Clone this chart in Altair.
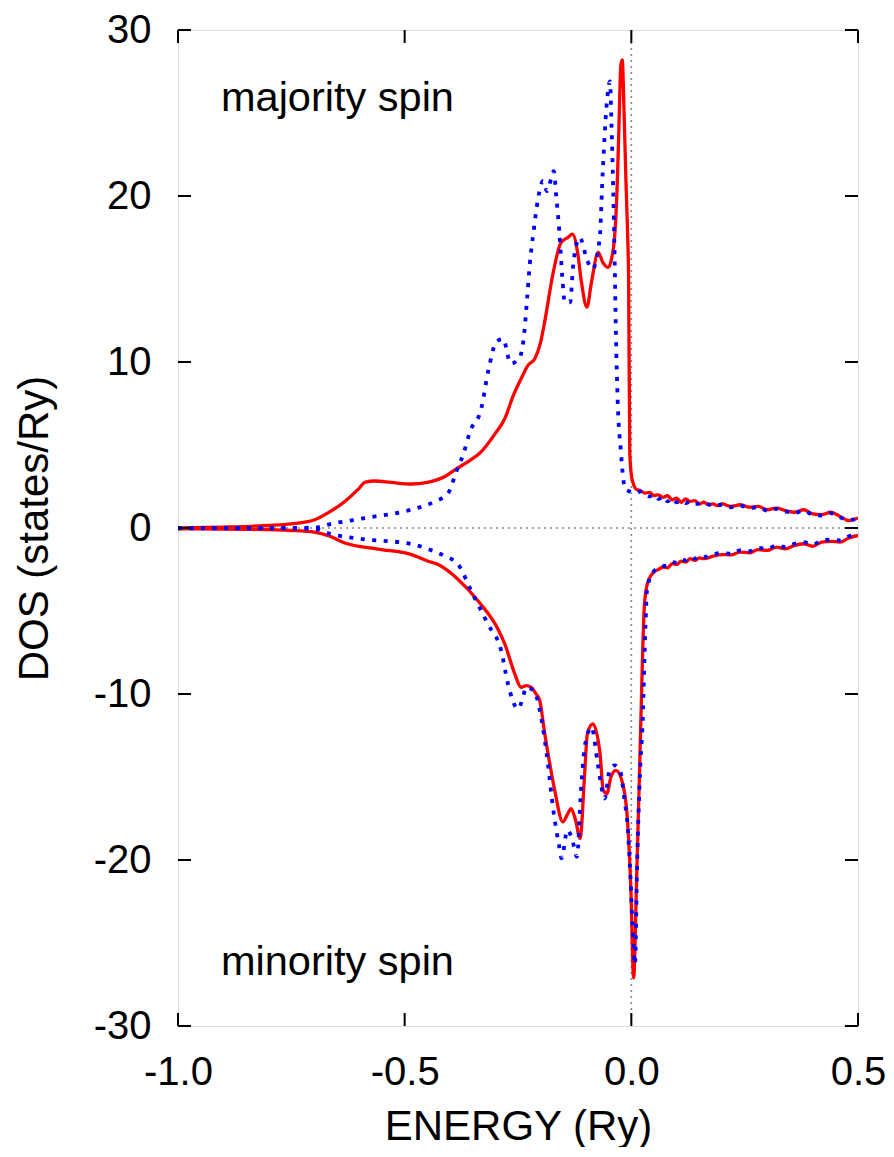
import altair as alt
import pandas as pd

# ---------------- data ----------------
maj_red_E = [-1.0, -0.9, -0.8, -0.75, -0.70, -0.67, -0.632, -0.60, -0.588, -0.566, -0.53, -0.486, -0.45,
             -0.411, -0.387, -0.36, -0.331, -0.30, -0.279, -0.26, -0.243, -0.228, -0.213, -0.200, -0.190,
             -0.173, -0.155, -0.140, -0.130, -0.118, -0.110, -0.098, -0.088, -0.073, -0.063, -0.051, -0.043,
             -0.037, -0.032, -0.028, -0.023, -0.020, -0.016, -0.012, -0.008, -0.006, -0.0035, 0.0, 0.004,
             0.010, 0.02, 0.03, 0.04, 0.05, 0.06, 0.07, 0.08, 0.09, 0.10, 0.11, 0.12, 0.13, 0.14, 0.15, 0.16,
             0.17, 0.18, 0.19, 0.20, 0.22, 0.24, 0.26, 0.28, 0.30, 0.32, 0.34, 0.36, 0.38, 0.40, 0.42, 0.44,
             0.46, 0.48, 0.50]
maj_red_D = [0.0, 0.05, 0.15, 0.25, 0.48, 0.9, 1.6, 2.4, 2.75, 2.83, 2.75, 2.65, 2.75,
             3.1, 3.55, 4.0, 4.6, 5.7, 6.6, 8.0, 9.0, 9.8, 10.2, 11.2, 12.6,
             15.3, 17.2, 17.5, 17.7, 16.5, 14.8, 13.3, 14.8, 16.6, 16.0, 15.7, 16.3,
             17.5, 20.0, 23.5, 27.9, 28.2, 25.0, 21.0, 17.5, 15.0, 4.6, 3.2, 2.7,
             2.35, 2.25, 2.1, 2.15, 1.95, 2.0, 1.85, 1.95, 1.7, 1.8, 1.55, 1.75, 1.6, 1.65, 1.45, 1.55,
             1.4, 1.45, 1.35, 1.45, 1.3, 1.4, 1.25, 1.3, 1.1, 1.2, 1.05, 0.95, 1.1, 0.85, 0.8, 0.95,
             0.7, 0.45, 0.6]

maj_blue_E = [-1.0, -0.8, -0.7, -0.662, -0.588, -0.486, -0.433, -0.404, -0.386, -0.370, -0.356, -0.331,
              -0.316, -0.298, -0.283, -0.266, -0.246, -0.236, -0.230, -0.224, -0.215, -0.206, -0.195, -0.186,
              -0.171, -0.166, -0.159, -0.152, -0.147, -0.135, -0.128, -0.114, -0.097, -0.086, -0.070, -0.063,
              -0.055, -0.047, -0.044, -0.040, -0.037, -0.034, -0.030, -0.023, -0.018, -0.012, -0.003, 0.01,
              0.02, 0.03, 0.04, 0.05, 0.06, 0.07, 0.08, 0.09, 0.10, 0.11, 0.12, 0.13, 0.14, 0.16, 0.18, 0.20,
              0.22, 0.24, 0.26, 0.28, 0.30, 0.32, 0.34, 0.36, 0.38, 0.40, 0.42, 0.44, 0.46, 0.48, 0.50]
maj_blue_D = [0.0, 0.0, 0.02, 0.25, 0.6, 1.1, 1.6, 2.1, 3.4, 4.5, 5.8, 7.2,
              9.4, 11.2, 11.4, 9.9, 10.3, 11.8, 13.8, 15.9, 18.0, 19.8, 20.9, 20.3,
              21.5, 20.1, 17.9, 15.0, 13.6, 13.6, 15.9, 17.5, 16.1, 15.6, 17.4, 21.5,
              25.3, 26.9, 24.5, 20.4, 16.5, 11.7, 7.6, 4.6, 3.0, 2.3, 2.2, 2.1,
              2.2, 2.0, 1.9, 2.0, 1.75, 1.9, 1.6, 1.8, 1.55, 1.65, 1.5, 1.6, 1.45, 1.5, 1.35, 1.4,
              1.25, 1.35, 1.2, 1.25, 1.05, 1.15, 1.0, 0.9, 1.05, 0.8, 0.75, 0.9, 0.65, 0.5, 0.55]

min_red_E = [-1.0, -0.85, -0.75, -0.70, -0.665, -0.632, -0.559, -0.485, -0.448, -0.426, -0.382, -0.338,
             -0.294, -0.279, -0.257, -0.243, -0.232, -0.221, -0.210, -0.202, -0.191, -0.176, -0.169, -0.151,
             -0.140, -0.133, -0.123, -0.113, -0.103, -0.097, -0.085, -0.069, -0.062, -0.054, -0.045, -0.034,
             -0.019, -0.008, -0.001, 0.005, 0.012, 0.018, 0.021, 0.029, 0.036, 0.052, 0.06, 0.07, 0.08,
             0.09, 0.10, 0.11, 0.12, 0.13, 0.14, 0.15, 0.16, 0.18, 0.20, 0.22, 0.24, 0.26, 0.28, 0.30, 0.32,
             0.34, 0.36, 0.38, 0.40, 0.42, 0.44, 0.46, 0.48, 0.50]
min_red_D = [-0.05, -0.08, -0.15, -0.25, -0.5, -0.9, -1.27, -1.6, -2.0, -2.2, -3.1, -4.4,
             -6.1, -7.0, -8.8, -9.6, -9.5, -9.6, -10.0, -10.4, -12.4, -14.8, -15.8, -17.7,
             -17.2, -16.9, -17.6, -18.7, -14.8, -12.4, -11.8, -13.6, -15.8, -16.0, -15.0, -14.6,
             -15.4, -17.8, -21.8, -27.1, -20.8, -14.8, -11.6, -4.6, -3.3, -2.6, -2.5, -2.35, -2.4,
             -2.15, -2.2, -2.0, -2.05, -1.85, -1.95, -1.8, -1.85, -1.7, -1.6, -1.62, -1.45, -1.5, -1.3, -1.35, -1.15,
             -1.25, -1.05, -0.95, -1.1, -0.85, -0.8, -0.85, -0.6, -0.45]

min_blue_E = [-1.0, -0.8, -0.7, -0.662, -0.588, -0.486, -0.448, -0.411, -0.382, -0.353, -0.316, -0.287,
              -0.272, -0.250, -0.240, -0.232, -0.215, -0.199, -0.184, -0.173, -0.159, -0.154, -0.141, -0.130,
              -0.120, -0.111, -0.103, -0.100, -0.088, -0.074, -0.066, -0.059, -0.048, -0.037, -0.025, -0.015,
              -0.008, -0.002, 0.004, 0.008, 0.013, 0.019, 0.025, 0.031, 0.035, 0.050, 0.06, 0.07, 0.08,
              0.09, 0.10, 0.11, 0.12, 0.13, 0.14, 0.15, 0.16, 0.18, 0.20, 0.22, 0.24, 0.26, 0.28, 0.30, 0.32,
              0.34, 0.36, 0.38, 0.40, 0.42, 0.44, 0.46, 0.48, 0.50]
min_blue_D = [-0.02, -0.02, -0.05, -0.37, -0.68, -0.96, -1.27, -1.7, -2.2, -3.8, -5.8, -7.4,
              -9.4, -10.9, -10.3, -9.6, -9.8, -11.4, -14.2, -16.8, -19.2, -19.9, -18.2, -18.8,
              -19.8, -15.8, -13.2, -12.8, -12.0, -14.2, -15.6, -16.3, -14.6, -14.3, -14.6, -16.4,
              -18.0, -21.0, -24.8, -26.3, -20.0, -14.8, -11.6, -6.0, -3.6, -2.6, -2.4, -2.3, -2.25,
              -2.05, -2.1, -1.9, -1.95, -1.75, -1.85, -1.7, -1.75, -1.6, -1.5, -1.55, -1.35, -1.4, -1.2, -1.25, -1.05,
              -1.15, -0.95, -0.85, -1.0, -0.75, -0.7, -0.75, -0.5, -0.4]

x_ticks = [-1.0, -0.5, 0.0, 0.5]
y_ticks = [-30, -20, -10, 0, 10, 20, 30]
labels = ["majority spin", "minority spin"]

FONT = "Liberation Sans"
W, H = 680, 996

xs = alt.Scale(domain=[-1.0, 0.5], nice=False, zero=False)
ys = alt.Scale(domain=[-30, 30], nice=False, zero=False)

x_axis = alt.Axis(values=x_ticks, title="ENERGY (Ry)", grid=False, ticks=False, tickSize=0, domain=False,
                  labelFlush=False, labelOverlap=False,
                  labelExpr="datum.value < 0 ? '-' + format(-datum.value, '.1f') : format(datum.value, '.1f')",
                  labelFont=FONT, labelFontSize=40, labelColor="black", labelPadding=26,
                  titleFont=FONT, titleFontSize=42, titleFontWeight="normal", titleColor="black",
                  titleX=W / 2, titleY=113, titleAlign="center", titleBaseline="alphabetic")
y_axis = alt.Axis(values=y_ticks, title="DOS (states/Ry)", grid=False, ticks=False, tickSize=0, domain=False,
                  labelFlush=False, labelOverlap=False,
                  labelExpr="datum.value < 0 ? '-' + format(-datum.value, 'd') : format(datum.value, 'd')",
                  labelFont=FONT, labelFontSize=40, labelColor="black", labelPadding=27,
                  titleFont=FONT, titleFontSize=42, titleFontWeight="normal", titleColor="black",
                  titleAngle=-90, titleX=-131, titleY=H / 2, titleAlign="center", titleBaseline="alphabetic")


def line_layer(E, D, color, dashed):
    df = pd.DataFrame({"E": E, "D": D})
    kw = dict(color=color, strokeWidth=3.3, clip=True, interpolate="monotone")
    if dashed:
        kw.update(strokeDash=[4, 7.5], strokeCap="butt", strokeWidth=3.8)
    return alt.Chart(df).mark_line(**kw).encode(
        x=alt.X("E:Q", scale=xs, axis=x_axis),
        y=alt.Y("D:Q", scale=ys, axis=y_axis),
    )


zero_h = alt.Chart(pd.DataFrame({"z": [0]})).mark_rule(color="#888888", strokeWidth=1.6, strokeDash=[2, 4]).encode(
    y=alt.Y("z:Q", scale=ys, axis=y_axis))
zero_v = alt.Chart(pd.DataFrame({"z": [0]})).mark_rule(color="#888888", strokeWidth=1.6, strokeDash=[2, 4]).encode(
    x=alt.X("z:Q", scale=xs, axis=x_axis))

xt = pd.DataFrame({"t": x_ticks})
yt = pd.DataFrame({"t": y_ticks})
tick_bottom = alt.Chart(xt).mark_rule(color="black", strokeWidth=2).encode(
    x=alt.X("t:Q", scale=xs, axis=x_axis), y=alt.value(H), y2=alt.value(H - 13))
tick_top = alt.Chart(xt).mark_rule(color="black", strokeWidth=2).encode(
    x=alt.X("t:Q", scale=xs, axis=x_axis), y=alt.value(0), y2=alt.value(13))
tick_left = alt.Chart(yt).mark_rule(color="black", strokeWidth=2).encode(
    y=alt.Y("t:Q", scale=ys, axis=y_axis), x=alt.value(0), x2=alt.value(13))
tick_right = alt.Chart(yt).mark_rule(color="black", strokeWidth=2).encode(
    y=alt.Y("t:Q", scale=ys, axis=y_axis), x=alt.value(W), x2=alt.value(W - 13))

txt_maj = alt.Chart(pd.DataFrame({"label": [labels[0]]})).mark_text(
    font=FONT, fontSize=41.5, color="black", align="left", baseline="alphabetic").encode(
    text="label:N", x=alt.value(43), y=alt.value(81))
txt_min = alt.Chart(pd.DataFrame({"label": [labels[1]]})).mark_text(
    font=FONT, fontSize=41.5, color="black", align="left", baseline="alphabetic").encode(
    text="label:N", x=alt.value(43), y=alt.value(945))

chart = alt.layer(
    zero_h, zero_v,
    line_layer(maj_red_E, maj_red_D, "#ff0000", False),
    line_layer(min_red_E, min_red_D, "#ff0000", False),
    line_layer(maj_blue_E, maj_blue_D, "#0000ff", True),
    line_layer(min_blue_E, min_blue_D, "#0000ff", True),
    tick_bottom, tick_top, tick_left, tick_right,
    txt_maj, txt_min,
).properties(
    width=W, height=H,
    autosize=alt.AutoSizeParams(type="none"),
    padding={"left": 170, "top": 22, "right": 28, "bottom": 121},
).configure_view(stroke="black", strokeWidth=2.5).configure(background="white")

chart.save("out.html", embed_options={"renderer": "svg", "actions": False})
